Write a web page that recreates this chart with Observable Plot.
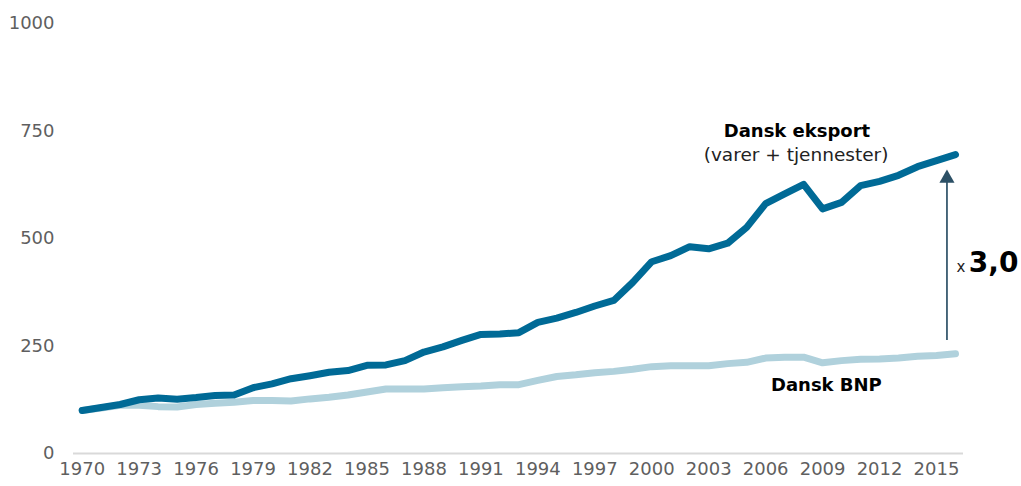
<!DOCTYPE html>
<html>
<head>
<meta charset="utf-8">
<script src="https://cdn.jsdelivr.net/npm/d3@7"></script>
<script src="https://cdn.jsdelivr.net/npm/@observablehq/plot@0.6"></script>
<style>
  html, body { margin: 0; padding: 0; background: #fff; }
  #chart svg { display: block; }
</style>
</head>
<body>
<div id="chart"></div>
<script>
const years = d3.range(1970, 2017);
const eksport = [100,107,114,125,129,126,130,135,136,153,162,174,181,189,193,205,206,216,236,248,263,277,278,281,305,315,328,343,356,398,446,460,481,476,489,526,581,604,626,569,584,623,633,647,667,681,695];
const bnp = [100,106,112,112,109,108,114,117,119,123,123,122,127,131,136,143,150,150,150,153,155,157,160,160,170,179,183,188,191,196,202,204,204,204,209,212,222,224,224,211,216,219,220,222,226,228,232];
const yTicks = [0, 250, 500, 750, 1000];
const xTicks = d3.range(1970, 2016, 3);

const labelsBold = [
  {x: 2007.65, y: 749, text: "Dansk eksport"},
  {x: 2009.2, y: 158, text: "Dansk BNP"}
];
const labelsRegular = [{x: 2007.6, y: 695, text: "(varer + tjennester)"}];
const arrowData = [{x: 2015.55, y1: 263, y2: 645, head: 640}];
const factorSmall = [{x: 2016.05, y: 421, text: "x"}];
const factorBig = [{x: 2016.7, y: 421, text: "3,0"}];

const rows = years.map((yr, i) => ({year: yr, eksport: eksport[i], bnp: bnp[i]}));

const chart = Plot.plot({
  width: 1021,
  height: 486,
  marginLeft: 73,
  marginRight: 58,
  marginTop: 23,
  marginBottom: 33,
  style: {fontFamily: "'DejaVu Sans', Verdana, sans-serif", fontSize: "18px", color: "#5f5f5f", background: "white", overflow: "visible"},
  x: {domain: [1970, 2016], insetLeft: 8.7, insetRight: 8, ticks: xTicks, tickFormat: d => String(d), tickSize: 0, tickPadding: 9, label: null},
  y: {domain: [0, 1000], ticks: yTicks, tickFormat: d => String(d), tickSize: 0, tickPadding: 19, label: null},
  marks: [
    Plot.ruleY([0], {stroke: "#d9d9d9", strokeWidth: 2}),
    Plot.line(rows, {x: "year", y: "bnp", stroke: "#b0d1dc", strokeWidth: 7, strokeLinecap: "round", strokeLinejoin: "round"}),
    Plot.line(rows, {x: "year", y: "eksport", stroke: "#006a96", strokeWidth: 7, strokeLinecap: "round", strokeLinejoin: "round"}),
    Plot.ruleX(arrowData, {x: "x", y1: "y1", y2: "y2", stroke: "#2c5066", strokeWidth: 1.7}),
    Plot.dot(arrowData, {x: "x", y: "head", symbol: "triangle", r: 5.6, fill: "#2c5066", stroke: "none"}),
    Plot.text(labelsBold, {x: "x", y: "y", text: "text", fontWeight: "bold", fontSize: 18, fill: "#000"}),
    Plot.text(labelsRegular, {x: "x", y: "y", text: "text", fontSize: 18.5, fill: "#222"}),
    Plot.text(factorSmall, {x: "x", y: "y", text: "text", fontSize: 15, fill: "#222", textAnchor: "start", lineAnchor: "bottom"}),
    Plot.text(factorBig, {x: "x", y: "y", text: "text", fontSize: 28, fontWeight: "bold", fill: "#000", textAnchor: "start", lineAnchor: "bottom"})
  ]
});
document.getElementById("chart").appendChild(chart);
</script>
</body>
</html>
